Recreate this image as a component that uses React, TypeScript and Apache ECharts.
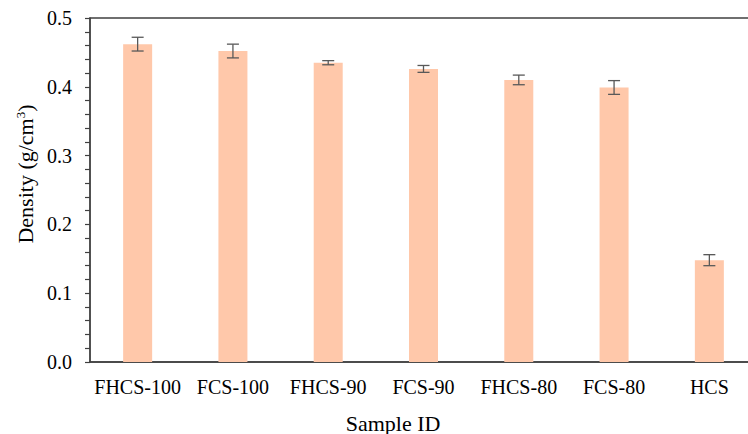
import React, { useEffect, useRef } from "react";
import * as echarts from "echarts";

const categories = ["FHCS-100", "FCS-100", "FHCS-90", "FCS-90", "FHCS-80", "FCS-80", "HCS"];
const densities = [0.462, 0.452, 0.435, 0.426, 0.410, 0.399, 0.148];
const errors = [0.010, 0.010, 0.003, 0.005, 0.007, 0.010, 0.008];
const yTicks = [0, 0.1, 0.2, 0.3, 0.4, 0.5];

const FONT = "Liberation Serif";

export default function App() {
  const ref = useRef<HTMLDivElement>(null);
  useEffect(() => {
    if (!ref.current) return;
    const chart = echarts.init(ref.current, undefined, { renderer: "svg" });
    const errData = categories.map((_, i) => [i, densities[i], errors[i]]);
    const labelRich = { s: { fontFamily: FONT, fontSize: 20, color: "#000" } };
    chart.setOption({
      animation: false,
      textStyle: { fontFamily: FONT },
      grid: {
        left: 90,
        top: 18,
        bottom: 72,
        right: 1,
        show: true,
        borderColor: "#404040",
        borderWidth: 1.3,
      },
      xAxis: {
        type: "category",
        data: categories,
        axisLine: { lineStyle: { color: "#404040", width: 1.5 } },
        axisTick: { show: false },
        axisLabel: {
          color: "#000",
          fontFamily: FONT,
          fontSize: 20,
          margin: 15,
          interval: 0,
          formatter: (v: string) => `{s|${v}}`,
          rich: labelRich,
        },
      },
      yAxis: {
        type: "value",
        min: yTicks[0],
        max: yTicks[yTicks.length - 1],
        interval: 0.1,
        axisLine: { show: true, lineStyle: { color: "#404040", width: 1.5 } },
        axisTick: { show: true, inside: false, length: 5, lineStyle: { color: "#404040", width: 1.2 } },
        minorTick: { show: true, splitNumber: 5, length: 5, lineStyle: { color: "#404040", width: 1.2 } },
        splitLine: { show: false },
        axisLabel: {
          color: "#000",
          fontFamily: FONT,
          fontSize: 20,
          margin: 18,
          formatter: (v: number) => `{s|${v.toFixed(1)}}`,
          rich: labelRich,
        },
      },
      graphic: [
        {
          type: "text",
          x: 25,
          y: 174,
          rotation: Math.PI / 2,
          style: {
            text: "{a|Density (g/cm}{b|3}{a|)}",
            align: "center",
            verticalAlign: "middle",
            rich: {
              a: { fontFamily: FONT, fontSize: 22, fill: "#000" },
              b: { fontFamily: FONT, fontSize: 13, fill: "#000", verticalAlign: "top", padding: [0, 0, 10, 0] },
            },
          },
        },
        {
          type: "text",
          x: 393,
          y: 423,
          style: {
            text: "{a|Sample ID}",
            align: "center",
            verticalAlign: "middle",
            rich: {
              a: { fontFamily: FONT, fontSize: 22, fill: "#000" },
            },
          },
        },
      ],
      series: [
        {
          type: "bar",
          data: densities,
          barWidth: 29,
          itemStyle: { color: "#FFC8AA" },
        },
        {
          type: "custom",
          data: errData,
          z: 10,
          renderItem: (params: any, api: any) => {
            const i = api.value(0);
            const v = api.value(1);
            const e = api.value(2);
            const top = api.coord([i, v + e]);
            const bot = api.coord([i, v - e]);
            const hw = 6;
            const style = { stroke: "#595959", lineWidth: 1.3 };
            return {
              type: "group",
              children: [
                { type: "line", shape: { x1: top[0], y1: top[1], x2: bot[0], y2: bot[1] }, style },
                { type: "line", shape: { x1: top[0] - hw, y1: top[1], x2: top[0] + hw, y2: top[1] }, style },
                { type: "line", shape: { x1: bot[0] - hw, y1: bot[1], x2: bot[0] + hw, y2: bot[1] }, style },
              ],
            };
          },
        },
      ],
    });
    return () => chart.dispose();
  }, []);
  return (
    <div style={{ position: "absolute", left: 0, top: 0, width: 748, height: 434, overflow: "hidden" }}>
      <div ref={ref} style={{ width: 758, height: 434 }} />
    </div>
  );
}
